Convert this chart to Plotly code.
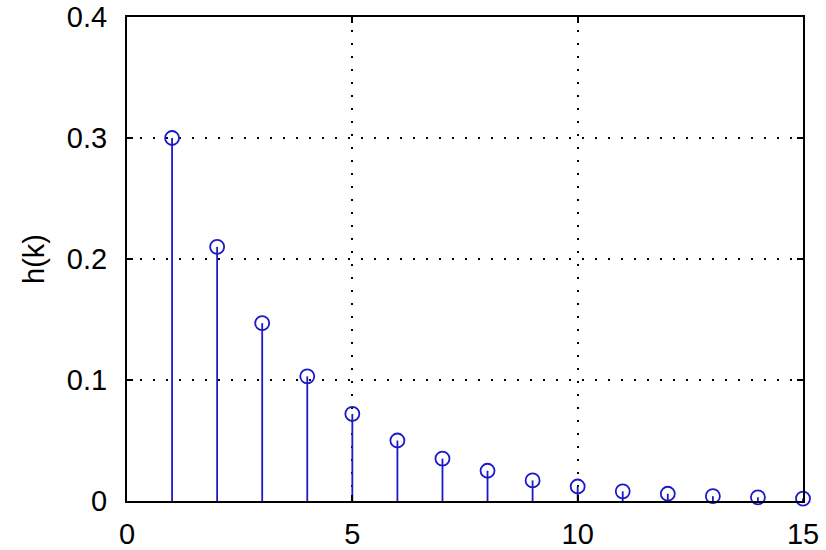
import plotly.graph_objects as go

k = list(range(1, 16))
h = [0.300, 0.210, 0.147, 0.103, 0.072, 0.050, 0.035, 0.025, 0.017, 0.012,
     0.008, 0.006, 0.004, 0.003, 0.002]
x_ticks = [0, 5, 10, 15]
y_ticks = [0, 0.1, 0.2, 0.3, 0.4]
y_tick_text = ["0", "0.1", "0.2", "0.3", "0.4"]

blue = "#1a1ac8"

stem_x, stem_y = [], []
for xi, yi in zip(k, h):
    stem_x += [xi, xi, None]
    stem_y += [0, yi, None]

fig = go.Figure()
fig.add_trace(go.Scatter(x=stem_x, y=stem_y, mode="lines",
                         line=dict(color=blue, width=1.8),
                         hoverinfo="skip", showlegend=False, cliponaxis=False))
fig.add_trace(go.Scatter(x=k, y=h, mode="markers",
                         marker=dict(symbol="circle-open", size=14,
                                     color=blue, line=dict(width=1.8, color=blue)),
                         showlegend=False, cliponaxis=False))

font = dict(family="Liberation Sans, Arial, sans-serif", size=29, color="black")

fig.update_layout(
    width=826, height=550,
    margin=dict(l=127, r=23, t=17, b=49, autoexpand=False),
    paper_bgcolor="white", plot_bgcolor="white",
    font=font,
    xaxis=dict(range=[0, 15], tickvals=x_ticks, ticktext=[str(v) for v in x_ticks],
               showline=True, linecolor="black", linewidth=2, mirror="ticks",
               ticks="inside", ticklen=6, tickwidth=2, tickcolor="black",
               showgrid=True, gridcolor="black", gridwidth=1.5, griddash="2px,11px",
               zeroline=False, ticklabelstandoff=6, tickfont=font, automargin=False),
    yaxis=dict(range=[0, 0.4], tickvals=y_ticks, ticktext=y_tick_text,
               showline=True, linecolor="black", linewidth=2, mirror="ticks",
               ticks="inside", ticklen=6, tickwidth=2, tickcolor="black",
               showgrid=True, gridcolor="black", gridwidth=1.5, griddash="2px,11px",
               zeroline=False, ticklabelstandoff=12, tickfont=font, automargin=False,
               title=dict(text="h(k)", font=font, standoff=14)),
)

fig.write_html("out.html")
